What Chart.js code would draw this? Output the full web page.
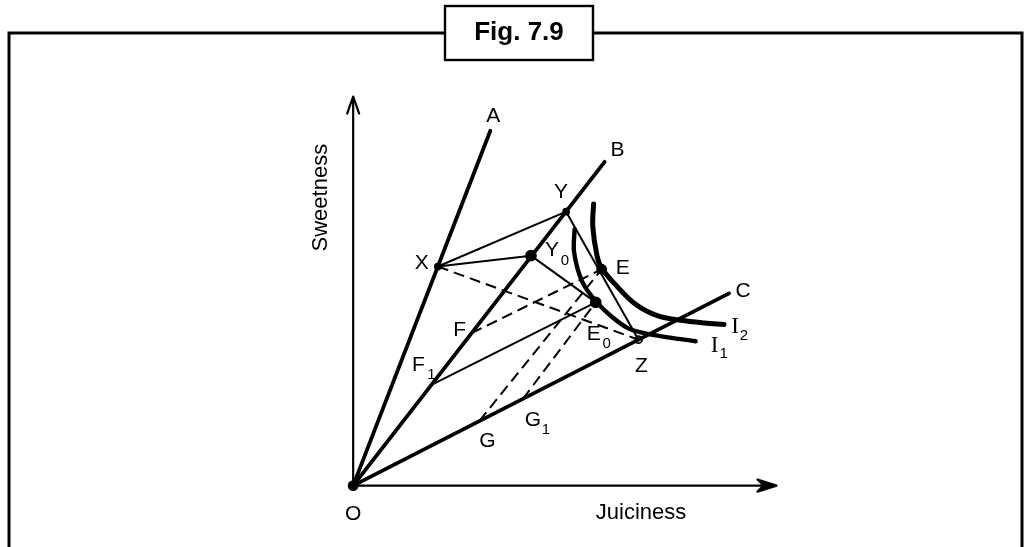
<!DOCTYPE html>
<html>
<head>
<meta charset="utf-8">
<script src="https://cdn.jsdelivr.net/npm/chart.js@4"></script>
<style>
  html, body { margin: 0; padding: 0; background: #fff; }
  #wrap { width: 1030px; height: 547px; position: relative; }
</style>
</head>
<body>
<div id="wrap"><canvas id="c" width="1030" height="547"></canvas></div>
<script>
// ---- Data (diagram units: Juiciness 0..100 along x, Sweetness 0..100 along y) ----
const figureTitle = 'Fig. 7.9';
const axisTitles = ['Juiciness', 'Sweetness'];
const axisLength = [100, 100];

const rayNames = ['A', 'B', 'C'];
const rayEndX = [32.4, 59.4, 88.8];
const rayEndY = [91.2, 83.2, 49.4];

const pointNames = ['O', 'X', 'Y', 'Y0', 'E', 'E0', 'Z', 'F', 'F1', 'G', 'G1'];
const pointX = [0, 20.0, 50.3, 42.0, 58.7, 57.3, 67.4, 28.0, 18.5, 29.8, 40.1];
const pointY = [0, 56.3, 70.4, 59.1, 55.6, 47.1, 37.5, 39.2, 25.9, 16.6, 22.3];

const solidSegments = [['X', 'Y'], ['X', 'Y0'], ['Y0', 'E0'], ['Y', 'Z'], ['F1', 'E0']];
const dashedSegments = [['X', 'Z'], ['F', 'E'], ['G', 'E'], ['G1', 'E0']];

const curveI1x = [52.3, 52.2, 54.1, 57.3, 61.1, 65.0, 69.0, 74.4, 80.9];
const curveI1y = [65.9, 59.9, 52.4, 47.4, 43.4, 40.4, 39.1, 38.1, 37.1];
const curveI2x = [56.8, 56.6, 57.6, 58.7, 62.0, 66.7, 72.0, 77.4, 83.0, 87.6];
const curveI2y = [72.4, 66.7, 59.1, 55.9, 51.6, 46.6, 43.6, 42.5, 41.8, 41.4];

const markedPoints = ['O', 'X', 'Y', 'Y0', 'E', 'E0', 'Z'];

// ---- Layout (pixel mapping of the diagram) ----
const ORIGIN_PX = 351, ORIGIN_PY = 491, PX_PER_X = 4.29, PX_PER_Y = 3.99;
const W = 1030, H = 547;

function pt(name) {
  const i = pointNames.indexOf(name);
  return { x: pointX[i], y: pointY[i] };
}
function seg(a, b) { return [pt(a), pt(b)]; }
function zip(xs, ys) { return xs.map((v, i) => ({ x: v, y: ys[i] })); }

const datasets = [];
const base = { showLine: true, pointRadius: 0, pointHoverRadius: 0, fill: false, borderColor: '#000', backgroundColor: '#000' };

// axes
datasets.push({ ...base, label: 'axisX', data: [{ x: 0, y: 0 }, { x: axisLength[0], y: 0 }], borderWidth: 2.2 });
datasets.push({ ...base, label: 'axisY', data: [{ x: 0, y: 0 }, { x: 0, y: axisLength[1] }], borderWidth: 2.2 });
// rays
rayNames.forEach((n, i) => {
  datasets.push({ ...base, label: 'ray' + n, data: [{ x: 0, y: 0 }, { x: rayEndX[i], y: rayEndY[i] }], borderWidth: 3.8, borderCapStyle: 'round' });
});
// thin solid lines
solidSegments.forEach(s => datasets.push({ ...base, label: s.join('-'), data: seg(s[0], s[1]), borderWidth: 2 }));
// dashed lines
dashedSegments.forEach(s => datasets.push({ ...base, label: s.join('-'), data: seg(s[0], s[1]), borderWidth: 2, borderDash: [11, 6] }));
// indifference curves
datasets.push({ ...base, label: 'I1', data: zip(curveI1x, curveI1y), borderWidth: 4.4, tension: 0.35, borderCapStyle: 'round' });
datasets.push({ ...base, label: 'I2', data: zip(curveI2x, curveI2y), borderWidth: 5, tension: 0.35, borderCapStyle: 'round' });
// marked points
datasets.push({
  label: 'points', showLine: false,
  data: markedPoints.map(pt),
  pointRadius: markedPoints.map(n => ({ O: 4.5, X: 3, Y: 3, Y0: 5, E: 4.5, E0: 5, Z: 3.5 })[n]),
  pointBackgroundColor: markedPoints.map(n => n === 'Z' ? '#fff' : '#000'),
  pointBorderColor: '#000', pointBorderWidth: 1.8
});

const labelFont = '21px "Liberation Sans", Arial, sans-serif';
const subFont = '15px "Liberation Sans", Arial, sans-serif';
const serifFont = '23px "Liberation Serif", "Times New Roman", serif';

const pointLabelOffsets = {
  O: [0, 29], X: [-16, -3], Y: [-5, -19], Y0: [21, -5], E: [21, -1], E0: [-2, 32],
  Z: [3, 27], F: [-12, -3], F1: [-13, -20], G: [8, 20], G1: [10, 21]
};

const decoPlugin = {
  id: 'deco',
  beforeDraw(chart) {
    const ctx = chart.ctx;
    ctx.save();
    ctx.fillStyle = '#fff';
    ctx.fillRect(0, 0, W, H);
    ctx.strokeStyle = '#000';
    ctx.lineWidth = 3;
    ctx.beginPath();
    ctx.moveTo(9, H + 2); ctx.lineTo(9, 33); ctx.lineTo(1022, 33); ctx.lineTo(1022, H + 2);
    ctx.stroke();
    ctx.fillStyle = '#fff';
    ctx.fillRect(445, 6, 148, 54);
    ctx.lineWidth = 2.4;
    ctx.strokeRect(445, 6, 148, 54);
    ctx.fillStyle = '#000';
    ctx.font = 'bold 26px "Liberation Sans", Arial, sans-serif';
    ctx.textAlign = 'center';
    ctx.textBaseline = 'middle';
    ctx.fillText(figureTitle, 519, 33);
    ctx.restore();
  },
  afterDatasetsDraw(chart) {
    const ctx = chart.ctx;
    const xs = chart.scales.x, ys = chart.scales.y;
    const P = (x, y) => [xs.getPixelForValue(x), ys.getPixelForValue(y)];
    ctx.save();
    ctx.strokeStyle = '#000';
    ctx.fillStyle = '#000';
    ctx.lineWidth = 2.2;
    ctx.lineCap = 'round';
    ctx.lineJoin = 'round';
    const [tx, ty] = P(axisLength[0], 0);
    ctx.beginPath();
    ctx.moveTo(tx - 19, ty - 6); ctx.lineTo(tx, ty); ctx.lineTo(tx - 19, ty + 6); ctx.lineTo(tx - 13, ty);
    ctx.closePath(); ctx.fill(); ctx.stroke();
    const [ux, uy] = P(0, axisLength[1]);
    ctx.beginPath();
    ctx.moveTo(ux - 6, uy + 17); ctx.lineTo(ux, uy); ctx.lineTo(ux + 6, uy + 17);
    ctx.stroke();

    ctx.textAlign = 'center';
    ctx.textBaseline = 'middle';
    function lbl(px, py, main, sub, font, sdx, sdy) {
      ctx.font = font;
      ctx.fillText(main, px, py);
      if (sub) {
        ctx.font = subFont;
        ctx.fillText(sub, px + sdx, py + sdy);
      }
    }
    const [jx, jy] = P(axisLength[0] * 0.68, 0);
    lbl(jx, jy + 27, axisTitles[0], null, '22px "Liberation Sans", Arial, sans-serif');
    const [sx, sy] = P(0, axisLength[1] * 0.74);
    ctx.save();
    ctx.translate(sx - 32, sy);
    ctx.rotate(-Math.PI / 2);
    ctx.font = '22px "Liberation Sans", Arial, sans-serif';
    ctx.fillText(axisTitles[1], 0, 0);
    ctx.restore();
    const rayOff = { A: [3, -15], B: [13, -12], C: [14, -2] };
    rayNames.forEach((n, i) => {
      const [px, py] = P(rayEndX[i], rayEndY[i]);
      lbl(px + rayOff[n][0], py + rayOff[n][1], n, null, labelFont);
    });
    pointNames.forEach(n => {
      const [px, py] = P(pt(n).x, pt(n).y);
      const o = pointLabelOffsets[n];
      const main = n.charAt(0), sub = n.length > 1 ? n.slice(1) : null;
      lbl(px + o[0], py + o[1], main, sub, labelFont, 13, 10);
    });
    const [i2x, i2y] = P(curveI2x[curveI2x.length - 1], curveI2y[curveI2y.length - 1]);
    lbl(i2x + 11, i2y + 2, 'I', '2', serifFont, 9, 9);
    const [i1x, i1y] = P(curveI1x[curveI1x.length - 1], curveI1y[curveI1y.length - 1]);
    lbl(i1x + 19, i1y + 5, 'I', '1', serifFont, 9, 8);
    ctx.restore();
  }
};

new Chart(document.getElementById('c'), {
  type: 'scatter',
  data: { datasets },
  options: {
    responsive: false,
    animation: false,
    events: [],
    layout: { padding: 0 },
    plugins: { legend: { display: false }, tooltip: { enabled: false }, title: { display: false } },
    scales: {
      x: { type: 'linear', display: false, min: -ORIGIN_PX / PX_PER_X, max: (W - ORIGIN_PX) / PX_PER_X },
      y: { type: 'linear', display: false, min: -(H - ORIGIN_PY) / PX_PER_Y, max: ORIGIN_PY / PX_PER_Y }
    }
  },
  plugins: [decoPlugin]
});
</script>
</body>
</html>
